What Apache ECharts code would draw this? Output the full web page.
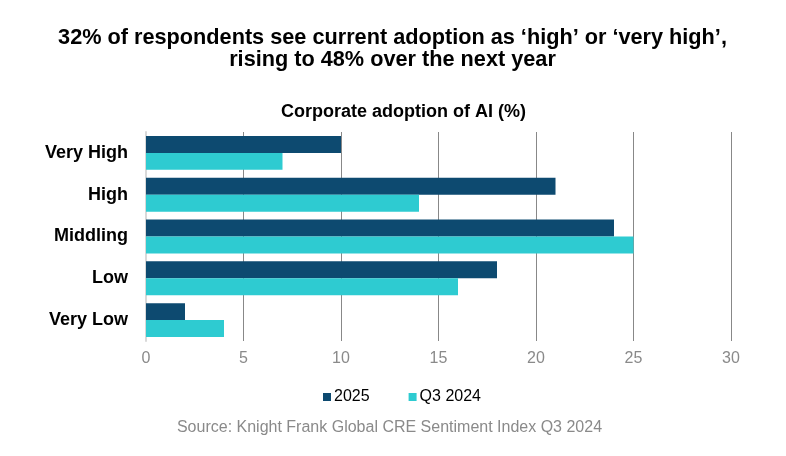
<!DOCTYPE html>
<html><head><meta charset="utf-8">
<script src="https://cdn.jsdelivr.net/npm/echarts@6/dist/echarts.min.js"></script>
<style>html,body{margin:0;padding:0;background:#fff}#c{width:786px;height:456px}</style>
</head><body><div id="c"></div>
<script>
var categories = ['Very High', 'High', 'Middling', 'Low', 'Very Low'];
var seriesNames = ['2025', 'Q3 2024'];
var values2025 = [10, 21, 24, 18, 2];
var valuesQ32024 = [7, 14, 25, 16, 4];
var xTicks = [0, 5, 10, 15, 20, 25, 30];

var chart = echarts.init(document.getElementById('c'));
chart.setOption({
  animation: false,
  title: [
    { text: "32% of respondents see current adoption as \u2018high\u2019 or \u2018very high\u2019,\nrising to 48% over the next year",
      left: 387.5, top: 22, textAlign: 'center',
      textStyle: { fontFamily: 'Liberation Sans', fontWeight: 'bold', fontSize: 21.7, lineHeight: 22, color: '#000' } },
    { text: 'Corporate adoption of AI (%)', left: 398.5, top: 98, textAlign: 'center',
      textStyle: { fontFamily: 'Liberation Sans', fontWeight: 'bold', fontSize: 18, color: '#000' } },
    { text: 'Source: Knight Frank Global CRE Sentiment Index Q3 2024', left: 384.5, top: 415, textAlign: 'center',
      textStyle: { fontFamily: 'Liberation Sans', fontWeight: 'normal', fontSize: 16, color: '#8a8a8a' } }
  ],
  legend: {
    data: seriesNames, top: 384, left: 318, itemWidth: 8, itemHeight: 8, itemGap: 39, icon: 'rect',
    textStyle: { fontFamily: 'Liberation Sans', fontSize: 16, color: '#000', padding: [0,0,0,-2] }
  },
  grid: { left: 146, right: 55, top: 132, bottom: 115, containLabel: false },
  xAxis: {
    type: 'value', min: xTicks[0], max: xTicks[xTicks.length - 1], interval: 5,
    axisLine: { show: false }, axisTick: { show: false },
    splitLine: { show: true, lineStyle: { color: '#888', width: 1 } },
    axisLabel: { color: '#8a8a8a', fontFamily: 'Liberation Sans', fontSize: 16, margin: 10 }
  },
  yAxis: {
    type: 'category', data: categories, inverse: true,
    axisLine: { show: true, lineStyle: { color: '#d9d9d9', width: 2 } },
    axisTick: { show: false },
    axisLabel: { color: '#000', fontFamily: 'Liberation Sans', fontWeight: 'bold', fontSize: 18, margin: 18 }
  },
  series: [
    { name: seriesNames[0], type: 'bar', data: values2025, barGap: '0%', barCategoryGap: '19%',
      itemStyle: { color: '#0d4a70' } },
    { name: seriesNames[1], type: 'bar', data: valuesQ32024, barGap: '0%', barCategoryGap: '19%',
      itemStyle: { color: '#2ecbd1' } }
  ]
});
</script></body></html>
